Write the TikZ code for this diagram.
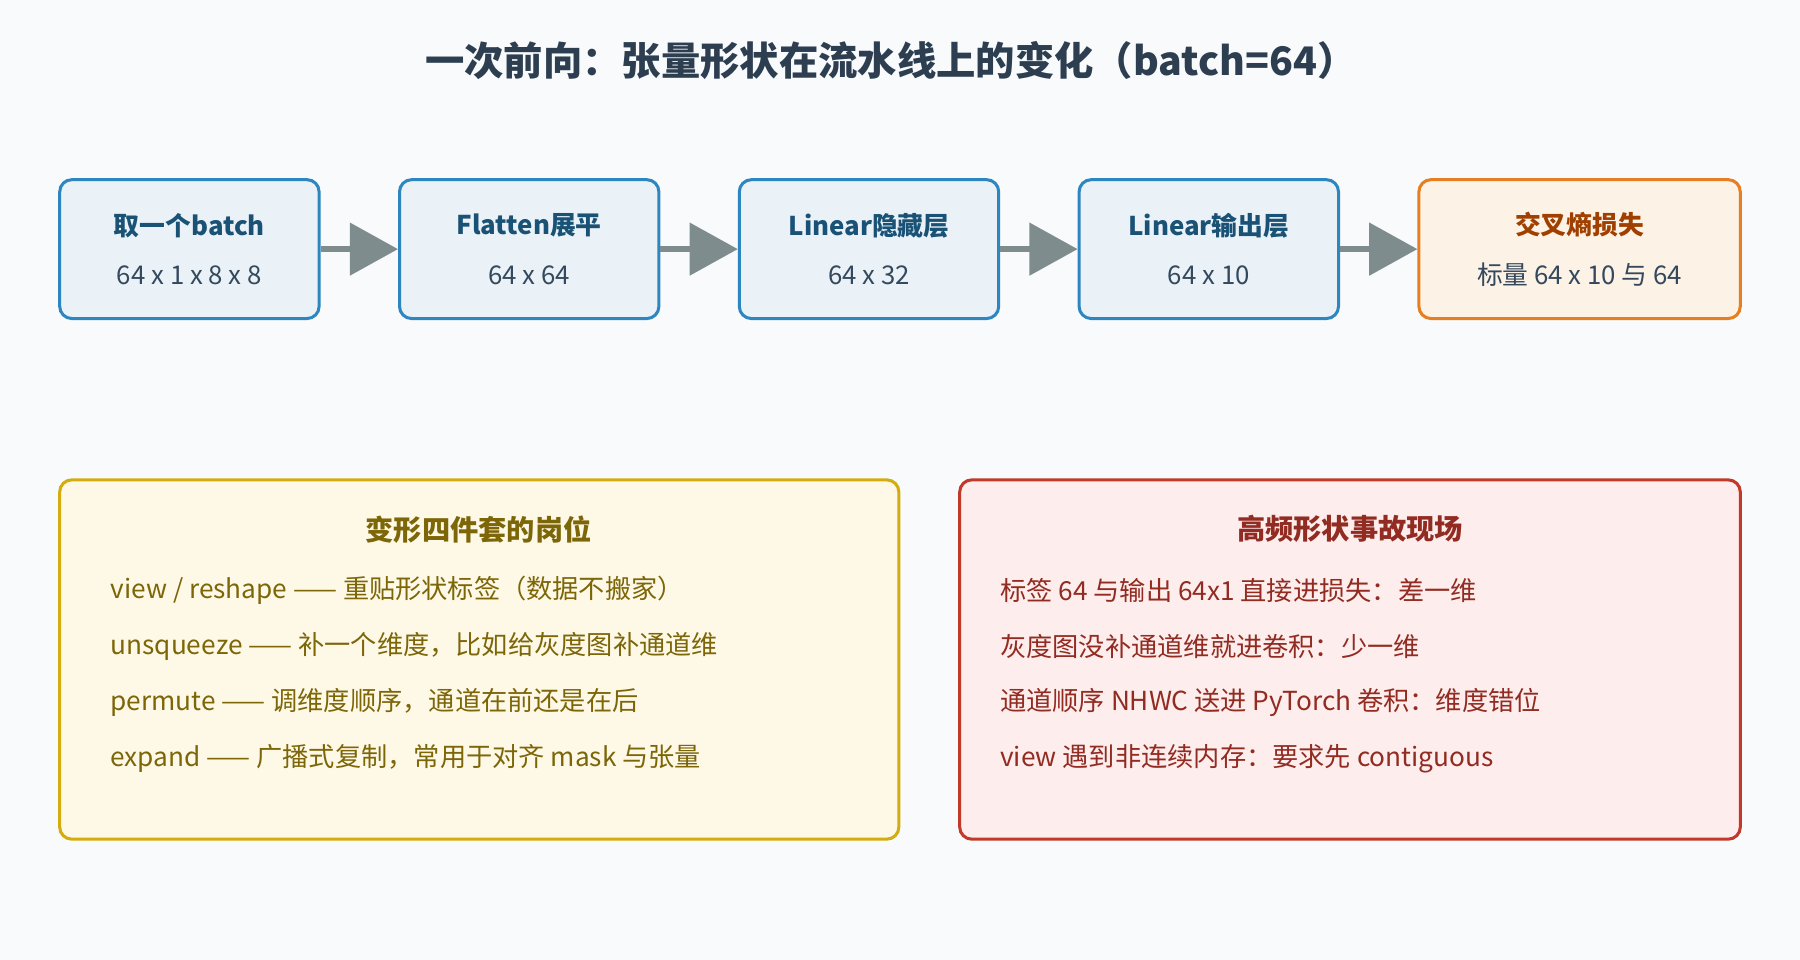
\documentclass[tikz,border=0pt]{standalone}
\usepackage{fontspec}
\setmainfont{Noto Sans CJK SC}
\usetikzlibrary{arrows.meta,positioning}
\definecolor{bgc}{HTML}{F8FAFC}
\definecolor{titlec}{HTML}{2C3E50}
\definecolor{stepfill}{HTML}{EAF2F8}
\definecolor{stepline}{HTML}{2E86C1}
\definecolor{steptext}{HTML}{1A5276}
\definecolor{subtext}{HTML}{34495E}
\definecolor{lossfill}{HTML}{FDF2E6}
\definecolor{lossline}{HTML}{E67E22}
\definecolor{losstext}{HTML}{A04000}
\definecolor{flowc}{HTML}{7F8C8D}
\definecolor{yfill}{HTML}{FEF9E7}
\definecolor{yline}{HTML}{D4AC0D}
\definecolor{ytext}{HTML}{7D6608}
\definecolor{rfill}{HTML}{FDEDEC}
\definecolor{rline}{HTML}{C0392B}
\definecolor{rtext}{HTML}{922B21}
\tikzset{
	stage/.style={draw=stepline, fill=stepfill, line width=1.5pt, rounded corners=6pt,
		minimum width=4.52cm, minimum height=2.42cm, align=center, inner sep=0pt,
		font=\fontsize{12.8}{24.5}\selectfont, text=subtext},
	flow/.style={flowc, line width=3pt, -{Triangle[length=0.84cm,width=0.9cm]}},
	panel/.style={line width=1.5pt, rounded corners=6pt},
	item/.style={anchor=west, inner sep=0pt, font=\fontsize{13}{15}\selectfont},
}
\begin{document}
\begin{tikzpicture}[x=0.02cm, y=-0.02cm]
	\fill[bgc] (0,0) rectangle (1568,836);
	%title
	\node[font=\fontsize{19.5}{22}\selectfont\bfseries, text=titlec] (title) at (776,53)
	{一次前向：张量形状在流水线上的变化（batch=64）};
	%pipeline
	\node[stage] (batch) at (165,217) {\textbf{\color{steptext}取一个batch}\\64 x 1 x 8 x 8};
	\node[stage] (flat) at (461,217) {\textbf{\color{steptext}Flatten展平}\\64 x 64};
	\node[stage] (hidden) at (757,217) {\textbf{\color{steptext}Linear隐藏层}\\64 x 32};
	\node[stage] (out) at (1053,217) {\textbf{\color{steptext}Linear输出层}\\64 x 10};
	\node[stage, draw=lossline, fill=lossfill, minimum width=5.6cm] (loss) at (1376,217)
	{\textbf{\color{losstext}交叉熵损失}\\标量 64 x 10 与 64};
	\foreach \a/\b in {batch/flat, flat/hidden, hidden/out, out/loss}
	\draw[flow] (\a) -- (\b);
	%panels
	\draw[panel, draw=yline, fill=yfill] (52,418) rectangle (783,731);
	\draw[panel, draw=rline, fill=rfill] (836,418) rectangle (1516,731);
	\node[font=\fontsize{14}{15}\selectfont\bfseries, text=ytext] (ytitle) at (417,461) {变形四件套的岗位};
	\node[font=\fontsize{14}{15}\selectfont\bfseries, text=rtext] (rtitle) at (1176,461) {高频形状事故现场};
	\foreach \t [count=\i] in {
		view / reshape —— 重贴形状标签（数据不搬家）,
		unsqueeze —— 补一个维度，比如给灰度图补通道维,
		permute —— 调维度顺序，通道在前还是在后,
		expand —— 广播式复制，常用于对齐 mask 与张量}
	\node[item, text=ytext] (y\i) at (96,465+49*\i) {\t};
	\foreach \t [count=\i] in {
		标签 64 与输出 64x1 直接进损失：差一维,
		灰度图没补通道维就进卷积：少一维,
		通道顺序 NHWC 送进 PyTorch 卷积：维度错位,
		view 遇到非连续内存：要求先 contiguous}
	\node[item, text=rtext] (r\i) at (871,465+49*\i) {\t};
\end{tikzpicture}
\end{document}
